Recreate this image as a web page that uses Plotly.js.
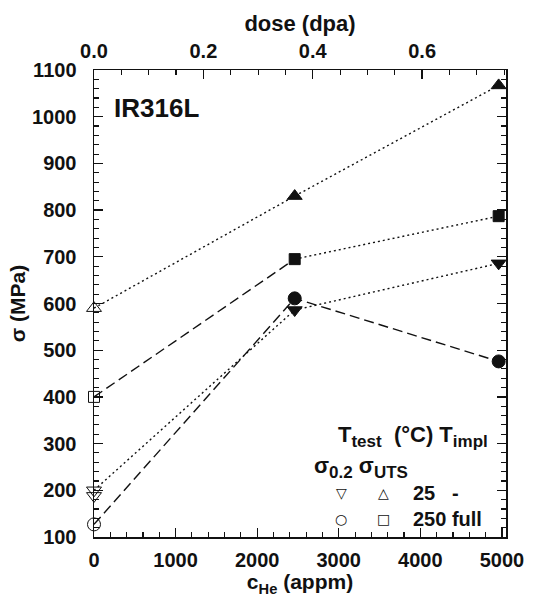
<!DOCTYPE html>
<html>
<head>
<meta charset="utf-8">
<script src="https://cdn.plot.ly/plotly-3.0.1.min.js"></script>
<style>
html,body{margin:0;padding:0;background:#fff;}
#chart{width:533px;height:602px;}
</style>
</head>
<body>
<div id="chart"></div>
<script>
// ---- data ----
const cHe = [0, 2460, 4960];           // He concentration (appm)
const dpa = [0, 0.367, 0.740];         // corresponding dose (dpa)
const utsRT = [590, 830, 1067];        // sigma_UTS, Ttest 25 C
const ys02RT = [200, 586, 686];        // sigma_0.2, Ttest 25 C
const ys02RTextra = [188];             // second unirradiated sigma_0.2 at 25 C
const utsHT = [400, 695, 787];         // sigma_UTS, Ttest 250 C
const ys02HT = [127, 611, 476];        // sigma_0.2, Ttest 250 C
const xMax = 5050;
const doseMax = xMax * dpa[1] / cHe[1];

const FONT = 'Liberation Sans, Arial, sans-serif';
const black = '#111';

function openFilled(open, filled){ return cHe.map((c,i)=> i===0 ? open : filled); }

const traces = [];
function seg(y, i0, i1, dash){
  traces.push({x: cHe.slice(i0, i1+1), y: y.slice(i0, i1+1), mode:'lines', type:'scatter',
    line:{color:black, width:1.4, dash:dash}, hoverinfo:'skip', cliponaxis:false});
}
const DOT = '2px,3px';
const DASH = '10px,5px';
seg(utsRT, 0, 2, DOT);
seg(ys02RT, 0, 2, DOT);
seg(utsHT, 0, 1, DASH);
seg(utsHT, 1, 2, DOT);
seg(ys02HT, 0, 2, DASH);

function marks(y, open, filled, size){
  traces.push({x: cHe, y: y, mode:'markers', type:'scatter', cliponaxis:false,
    marker:{symbol: openFilled(open, filled), size:size, color:black, line:{width:1, color:black}}});
}
marks(utsRT, 'triangle-up-open', 'triangle-up', 13);
marks(ys02RT, 'triangle-down-open', 'triangle-down', 13);
marks(utsHT, 'square-open', 'square', 11);
marks(ys02HT, 'circle-open', 'circle', 13);
traces.push({x:[cHe[0]], y: ys02RTextra, mode:'markers', type:'scatter', cliponaxis:false,
  marker:{symbol:'triangle-down-open', size:13, color:black, line:{width:1,color:black}}});
// invisible trace to bind the top (dose) axis
traces.push({x: dpa, y: utsRT, xaxis:'x2', mode:'markers', marker:{opacity:0}, hoverinfo:'skip'});

const tickfont = {family:FONT, size:20, weight:'bold', color:black};
const titlefont = {family:FONT, size:21, weight:'bold', color:black};
const L = 94, R = 506, T = 70, B = 537;
function px(x){ return (x-L)/(R-L); }
function py(y){ return (B-y)/(B-T); }

const annFont = {family:FONT, size:22, weight:'bold', color:black};
const rowFont = {family:FONT, size:20, weight:'bold', color:black};
const symFont = {family:'DejaVu Sans', size:14, color:black};
const sub = s => '<sub><span style="font-size:17px">' + s + '</span></sub>';
const NB = '\u00a0';
const annotations = [
  {text:'IR316L', xref:'paper', yref:'paper', x:px(112), y:py(108), xanchor:'left', yanchor:'middle', showarrow:false, font:{family:FONT, size:26, weight:'bold', color:black}},
  {text:'T' + sub('test') + NB + NB + '(°C) T' + sub('impl'), xref:'paper', yref:'paper', x:px(336), y:py(436), xanchor:'left', yanchor:'middle', showarrow:false, font:annFont},
  {text:'σ' + sub('0.2') + ' σ' + sub('UTS'), xref:'paper', yref:'paper', x:px(312), y:py(467), xanchor:'left', yanchor:'middle', showarrow:false, font:annFont},
  {text:'▽', xref:'paper', yref:'paper', x:px(341), y:py(493), xanchor:'center', yanchor:'middle', showarrow:false, font:symFont},
  {text:'△', xref:'paper', yref:'paper', x:px(383), y:py(493), xanchor:'center', yanchor:'middle', showarrow:false, font:symFont},
  {text:'25' + NB + NB + NB + '-', xref:'paper', yref:'paper', x:px(411), y:py(493), xanchor:'left', yanchor:'middle', showarrow:false, font:rowFont},
  {text:'○', xref:'paper', yref:'paper', x:px(341), y:py(519), xanchor:'center', yanchor:'middle', showarrow:false, font:symFont},
  {text:'□', xref:'paper', yref:'paper', x:px(383), y:py(519), xanchor:'center', yanchor:'middle', showarrow:false, font:symFont},
  {text:'250 full', xref:'paper', yref:'paper', x:px(411), y:py(519), xanchor:'left', yanchor:'middle', showarrow:false, font:rowFont}
];

const layout = {
  width:533, height:602,
  margin:{l:L, r:533-R, t:T, b:602-B, pad:0},
  paper_bgcolor:'#fff', plot_bgcolor:'#fff',
  showlegend:false,
  font:{family:FONT, color:black},
  xaxis:{range:[0, xMax], dtick:1000, tick0:0, ticks:'inside', ticklen:9, tickwidth:1.3, tickcolor:black,
    showline:true, linecolor:black, linewidth:1.5, showgrid:false, zeroline:false, mirror:false,
    minor:{dtick:200, ticks:'inside', ticklen:5, tickwidth:1.1, tickcolor:black, showgrid:false},
    tickfont:tickfont, ticklabelstandoff:4,
    title:{text:'c<sub>He</sub> (appm)', font:titlefont, standoff:2}},
  xaxis2:{overlaying:'x', side:'top', range:[0, doseMax], dtick:0.2, tick0:0, tickformat:'.1f',
    ticks:'inside', ticklen:9, tickwidth:1.3, tickcolor:black,
    showline:true, linecolor:black, linewidth:1.5, showgrid:false, zeroline:false,
    minor:{dtick:0.05, ticks:'inside', ticklen:5, tickwidth:1.1, tickcolor:black, showgrid:false},
    tickfont:tickfont, ticklabelstandoff:3,
    title:{text:'dose (dpa)', font:{family:FONT, size:22, weight:'bold', color:black}, standoff:2}},
  yaxis:{range:[100, 1100], dtick:100, tick0:0, ticks:'inside', ticklen:9, tickwidth:1.3, tickcolor:black,
    showline:true, linecolor:black, linewidth:1.5, showgrid:false, zeroline:false, mirror:'ticks',
    minor:{dtick:20, ticks:'inside', ticklen:5, tickwidth:1.1, tickcolor:black, showgrid:false},
    tickfont:tickfont, ticklabelstandoff:12,
    title:{text:'σ (MPa)', font:titlefont, standoff:0}},
  annotations:annotations
};

Plotly.newPlot('chart', traces, layout, {staticPlot:true, displayModeBar:false});
</script>
</body>
</html>
